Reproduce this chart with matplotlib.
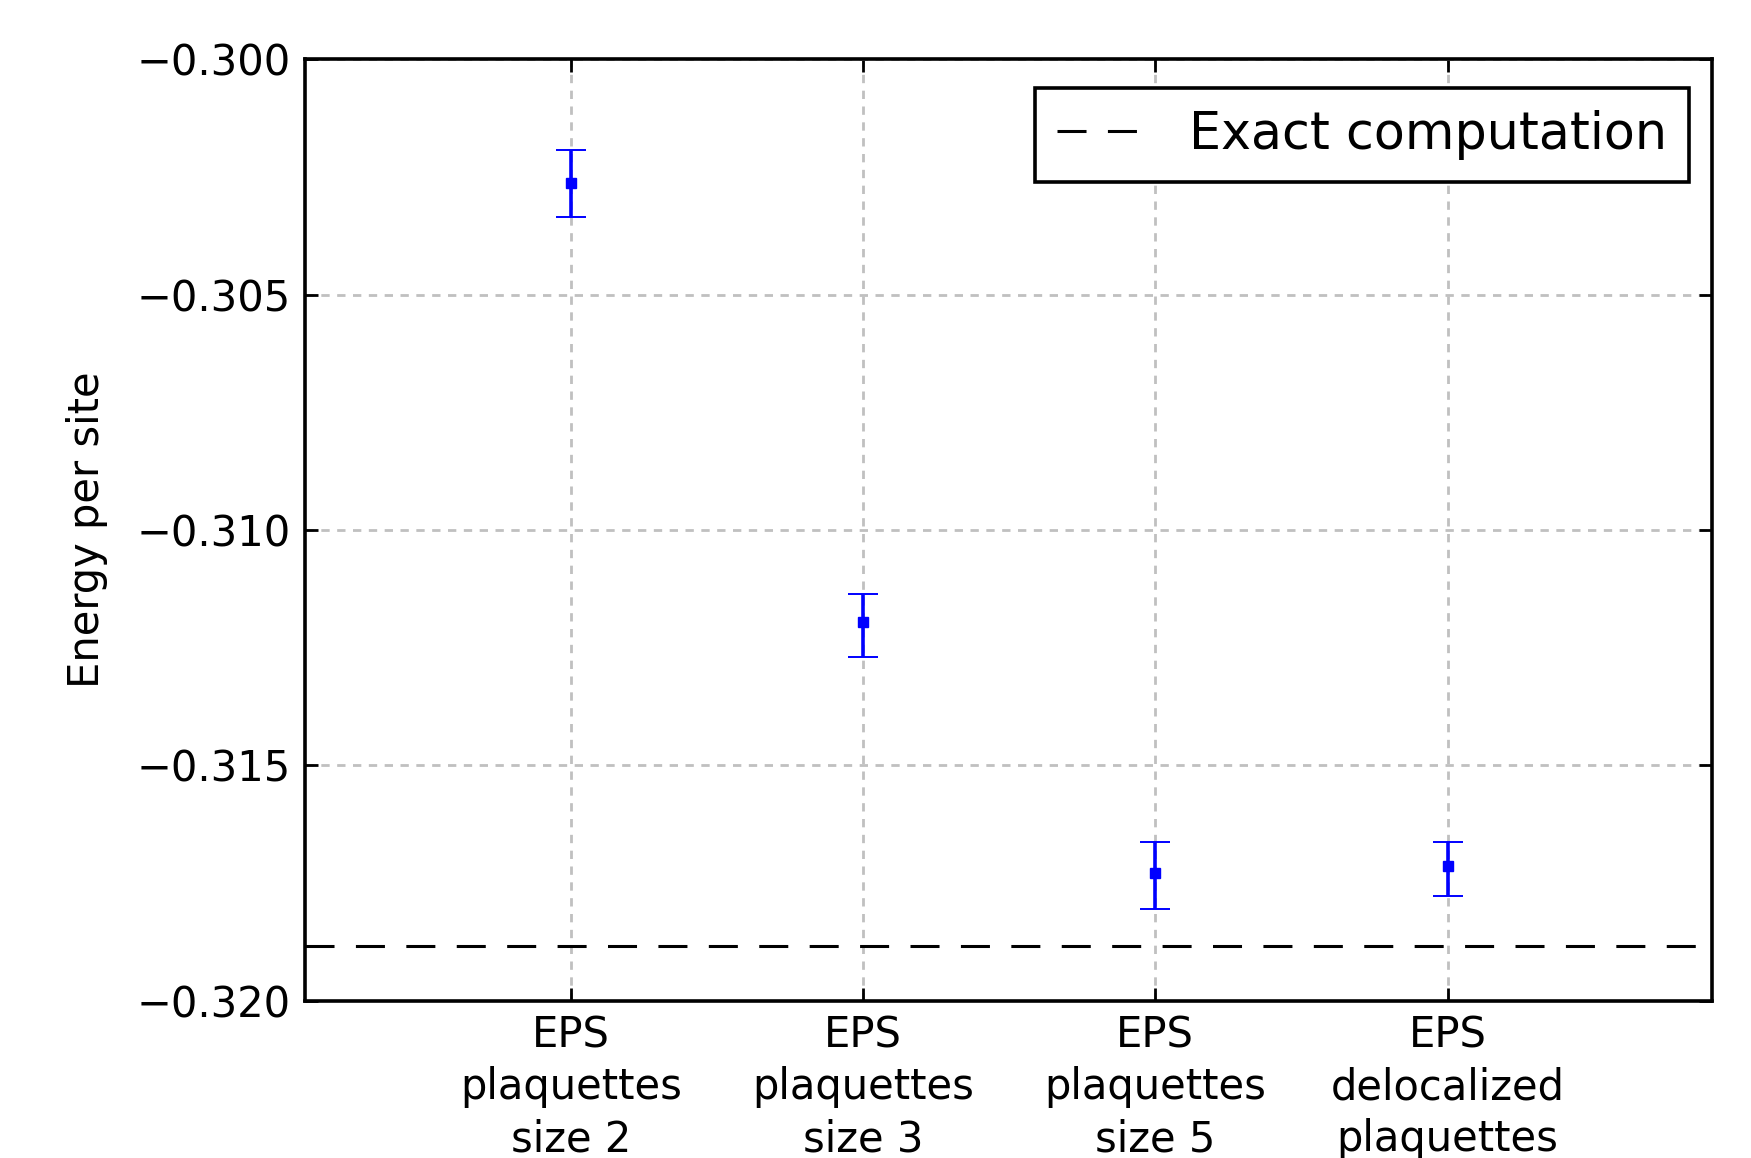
import numpy as np
import matplotlib
matplotlib.use('Agg')
import matplotlib.pyplot as plt

# data
labels = ['EPS\nplaquettes\nsize 2', 'EPS\nplaquettes\nsize 3',
          'EPS\nplaquettes\nsize 5', 'EPS\ndelocalized\nplaquettes']
energy = [-0.30262, -0.31196, -0.31729, -0.31715]
err_low = [0.00073, 0.00073, 0.00076, 0.00062]
err_high = [0.00070, 0.00060, 0.00067, 0.00053]
exact = -0.31884

x = np.arange(1, len(labels) + 1)

fig = plt.figure(figsize=(17.51, 11.58), dpi=100)
ax = fig.add_axes([0.1742, 0.1359, 0.8035, 0.8130])

ax.errorbar(x, energy, yerr=[err_low, err_high], fmt='s', color='blue',
            markersize=7, elinewidth=2.6, capsize=11, capthick=1.4,
            ecolor='blue')
ax.axhline(exact, color='black', linestyle='--', dashes=(9.5, 7),
           linewidth=2.2, label='Exact computation')

ax.set_xlim(0.09, 4.905)
ax.set_ylim(-0.320, -0.300)
ax.set_yticks([-0.320, -0.315, -0.310, -0.305, -0.300])
ax.set_yticklabels(['\u22120.320', '\u22120.315', '\u22120.310', '\u22120.305', '\u22120.300'])
ax.set_xticks(x)
ax.set_xticklabels(labels, linespacing=1.3)

ax.grid(True, color='#c0c0c0', linestyle=(0, (3, 2.7)), linewidth=2.0)
ax.tick_params(direction='in', length=9.5, width=2, top=True, right=True,
               labelsize=30, pad=10)
for s in ax.spines.values():
    s.set_linewidth(2.6)
ax.set_ylabel('Energy per site', fontsize=30, labelpad=21)

leg = ax.legend(loc='upper right', bbox_to_anchor=(1.0, 0.994),
                fontsize=36.5, fancybox=False,
                framealpha=1, handlelength=1.7, handletextpad=0.9,
                borderpad=0.44, borderaxespad=0.45)
leg.get_frame().set_edgecolor('black')
leg.get_frame().set_linewidth(2.6)

plt.savefig('out.png', dpi=100)
